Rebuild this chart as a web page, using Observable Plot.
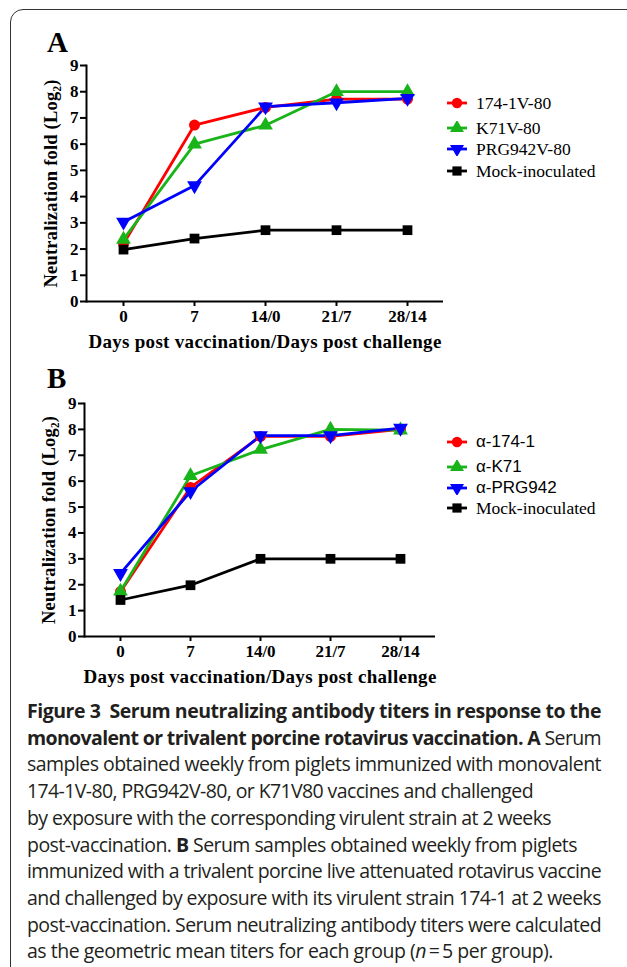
<!DOCTYPE html>
<html>
<head>
<meta charset="utf-8">
<script src="https://cdn.jsdelivr.net/npm/d3@7"></script>
<script src="https://cdn.jsdelivr.net/npm/@observablehq/plot@0.6"></script>
<style>
  html, body { margin: 0; padding: 0; background: #fff; }
  #page { position: relative; width: 627px; height: 967px; overflow: hidden; background: #fff; }
  .panel { position: absolute; left: 0; }
  .frame { position: absolute; left: 10px; top: 9px; width: 700px; height: 1000px; border: 1.5px solid #333; border-radius: 13px; pointer-events: none; }
  .plabel { position: absolute; left: 47px; font-family: "Liberation Serif", serif; font-weight: bold; font-size: 29px; line-height: 1; }
  .legend { position: absolute; left: 447px; }
  .legend .row { position: absolute; left: 0; white-space: nowrap; display: flex; align-items: center; height: 20px; }
  .legend .row svg { display: block; margin-right: 9px; }
  .legend .serif { font-family: "Liberation Serif", serif; font-size: 17.5px; }
  .legend .sans { font-family: "Liberation Sans", sans-serif; font-size: 17px; }
  g[aria-label="x-axis label"] text { font-size: 19px; letter-spacing: 0.3px; }
  g[aria-label="y-axis label"] text { font-size: 18.5px; letter-spacing: 0.2px; }
  #caption { position: absolute; left: 27px; top: 698px; width: 574px; font-family: "Open Sans", sans-serif; font-size: 19.5px; line-height: 26.7px; color: #231f20; }
  #caption .ln { white-space: nowrap; }
  #caption .j { text-align: justify; text-align-last: justify; }
  #caption b { font-weight: 700; }
</style>
</head>
<body>
<div id="page">
  <div class="plabel" style="top:28px">A</div>
  <div class="plabel" style="top:364px">B</div>
  <div id="panelA" class="panel" style="top:0px"></div>
  <div id="panelB" class="panel" style="top:360px"></div>
  <div id="legendA" class="legend"></div>
  <div id="legendB" class="legend"></div>
  <div id="caption">
    <div class="ln j" data-w="574"><b>Figure 3&nbsp; Serum neutralizing antibody titers in response to the</b></div>
    <div class="ln j" data-w="574"><b>monovalent or trivalent porcine rotavirus vaccination. A</b> Serum</div>
    <div class="ln j" data-w="574">samples obtained weekly from piglets immunized with monovalent</div>
    <div class="ln" data-w="506">174-1V-80, PRG942V-80, or K71V80 vaccines and challenged</div>
    <div class="ln" data-w="524">by exposure with the corresponding virulent strain at 2 weeks</div>
    <div class="ln" data-w="550">post-vaccination. <b>B</b> Serum samples obtained weekly from piglets</div>
    <div class="ln j" data-w="574">immunized with a trivalent porcine live attenuated rotavirus vaccine</div>
    <div class="ln j" data-w="574">and challenged by exposure with its virulent strain 174-1 at 2 weeks</div>
    <div class="ln j" data-w="574">post-vaccination. Serum neutralizing antibody titers were calculated</div>
    <div class="ln" data-w="526">as the geometric mean titers for each group (<i>n</i>&thinsp;=&thinsp;5 per group).</div>
  </div>
  <div class="frame"></div>
</div>
<script>
// ---- data ----
const days = ["0", "7", "14/0", "21/7", "28/14"];

const seriesA = ["174-1V-80", "K71V-80", "PRG942V-80", "Mock-inoculated"];
const valuesA174 = [2.2, 6.73, 7.4, 7.72, 7.72];
const valuesAK71 = [2.37, 6.0, 6.72, 8.0, 8.0];
const valuesAPRG = [3.03, 4.42, 7.43, 7.58, 7.75];
const valuesAMock = [1.98, 2.4, 2.72, 2.72, 2.72];

const seriesB = ["α-174-1", "α-K71", "α-PRG942", "Mock-inoculated"];
const valuesB174 = [1.73, 5.76, 7.73, 7.73, 8.0];
const valuesBK71 = [1.75, 6.21, 7.22, 8.0, 7.97];
const valuesBPRG = [2.44, 5.6, 7.76, 7.76, 8.05];
const valuesBMock = [1.41, 1.98, 3.0, 3.0, 3.0];

const yTicks = [0, 1, 2, 3, 4, 5, 6, 7, 8, 9];
const yLabel = "Neutralization fold (Log₂)";
const xLabel = "Days post vaccination/Days post challenge";

// ---- styles ----
const colors = ["#ff0000", "#19b419", "#0000ff", "#000000"];
const triangleDown = {
  draw(context, size) {
    const y = -Math.sqrt(size / (Math.sqrt(3) * 3));
    context.moveTo(0, -y * 2);
    context.lineTo(-Math.sqrt(3) * y, y);
    context.lineTo(Math.sqrt(3) * y, y);
    context.closePath();
  }
};
const symbols = [d3.symbolCircle, d3.symbolTriangle, triangleDown, d3.symbolSquare];

function toRows(series, arrays) {
  const rows = [];
  series.forEach((s, i) => arrays[i].forEach((v, j) => rows.push({series: s, day: days[j], value: v})));
  return rows;
}

function panel(series, arrays, opts) {
  const data = toRows(series, arrays);
  return Plot.plot({
    width: 627,
    height: opts.height,
    marginTop: opts.marginTop,
    marginBottom: opts.marginBottom,
    marginLeft: opts.marginLeft,
    marginRight: opts.marginRight,
    style: {fontFamily: "'Liberation Serif', 'Times New Roman', serif", fontSize: "17px", fontWeight: "bold", color: "#000", background: "none", overflow: "visible"},
    x: {type: "point", domain: days, padding: 0.5},
    y: {domain: [0, 9]},
    color: {domain: series, range: colors},
    symbol: {domain: series, range: symbols},
    marks: [
      Plot.axisY({ticks: yTicks, tickSize: 6, tickPadding: 2, strokeWidth: 2, tickFormat: d => String(d),
        label: yLabel, labelAnchor: "center", labelArrow: "none", labelOffset: opts.yLabelOffset}),
      Plot.axisX({tickSize: 5, tickPadding: 3, strokeWidth: 2,
        label: xLabel, labelAnchor: "center", labelArrow: "none", labelOffset: opts.xLabelOffset}),
      Plot.ruleY([0], {strokeWidth: 2}),
      Plot.frame({anchor: "left", strokeWidth: 2}),
      Plot.line(data, {x: "day", y: "value", z: "series", stroke: "series", strokeWidth: 2.8}),
      Plot.dot(data, {x: "day", y: "value", symbol: "series", fill: "series", r: 5.5})
    ]
  });
}

document.getElementById("panelA").appendChild(panel(seriesA,
  [valuesA174, valuesAK71, valuesAPRG, valuesAMock],
  {height: 360, marginTop: 65, marginBottom: 59, marginLeft: 86, marginRight: 184, yLabelOffset: 43, xLabelOffset: 46}));

document.getElementById("panelB").appendChild(panel(seriesB,
  [valuesB174, valuesBK71, valuesBPRG, valuesBMock],
  {height: 340, marginTop: 43, marginBottom: 64, marginLeft: 84, marginRight: 192, yLabelOffset: 43, xLabelOffset: 46}));

// ---- legends ----
function legend(el, series, rowTops, fonts) {
  series.forEach((s, i) => {
    const row = document.createElement("div");
    row.className = "row";
    row.style.top = rowTops[i] + "px";
    const sym = d3.symbol(symbols[i], 85);
    row.innerHTML = `<svg width="20" height="14" viewBox="-10 -7 20 14"><line x1="-10" x2="10" y1="0" y2="0" stroke="${colors[i]}" stroke-width="2.8"/><path d="${sym()}" fill="${colors[i]}"/></svg><span class="${fonts[i]}">${s}</span>`;
    el.appendChild(row);
  });
}
legend(document.getElementById("legendA"), seriesA, [93, 118, 139, 161], ["serif", "serif", "serif", "serif"]);
legend(document.getElementById("legendB"), seriesB, [432, 457, 478, 498], ["sans", "sans", "sans", "serif"]);

// ---- fit caption lines to their measured widths in the reference ----
document.querySelectorAll("#caption .ln").forEach(ln => {
  const target = +ln.dataset.w;
  const span = document.createElement("span");
  span.style.whiteSpace = "nowrap";
  while (ln.firstChild) span.appendChild(ln.firstChild);
  ln.appendChild(span);
  const natural = span.getBoundingClientRect().width;
  const chars = span.textContent.length;
  const ls = (Math.min(target, 574) - natural) / chars;
  if (!ln.classList.contains("j") || natural > target) span.style.letterSpacing = ls + "px";
  if (ln.classList.contains("j")) { ln.innerHTML = span.innerHTML; if (natural > target) ln.style.letterSpacing = ls + "px"; }
});
</script>
</body>
</html>
